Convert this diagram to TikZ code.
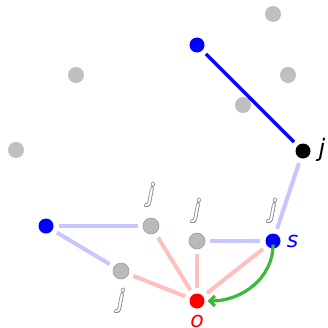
\documentclass[tikz,border=0pt]{standalone}
\usepackage{fontspec}
\setmainfont{DejaVu Sans}
\usetikzlibrary{arrows.meta}
\begin{document}
\begin{tikzpicture}[x=1pt,y=-1pt,
  bgdot/.style={circle,fill=black!25,inner sep=0pt,minimum size=16pt},
  gdot/.style={circle,fill=black!27,draw=black!40,line width=0.6pt,inner sep=0pt,minimum size=16pt},
  bdot/.style={circle,fill=blue,inner sep=0pt,minimum size=15pt},
  kdot/.style={circle,fill=black,inner sep=0pt,minimum size=15pt},
  rdot/.style={circle,fill=red,inner sep=0pt,minimum size=15pt},
  lb/.style={draw=blue!22,line width=4pt,shorten <=5pt,shorten >=5pt},
  pk/.style={draw=red!25,line width=4pt,shorten <=5pt,shorten >=5pt},
  jl/.style={font=\fontsize{24}{24}\selectfont\itshape,inner sep=0pt},
  sl/.style={font=\fontsize{22}{22}\selectfont\itshape,inner sep=0pt},
  outl/.style={jl,text=black!45},
  outw/.style={jl,text=white}]
\useasboundingbox (0,0) rectangle (328,327);
\node[bgdot] (g1) at (273,14) {};
\node[bgdot] (g2) at (76,75) {};
\node[bgdot] (g3) at (288,75) {};
\node[bgdot] (g4) at (243,105) {};
\node[bgdot] (g5) at (16,150) {};
\node[bdot] (bt) at (197,45) {};
\node[kdot] (jk) at (303,151) {};
\node[bdot] (bl) at (46,226) {};
\node[gdot] (a) at (151,226) {};
\node[gdot] (b) at (197,241) {};
\node[gdot] (c) at (121,271) {};
\node[bdot] (s) at (273,241) {};
\node[rdot] (o) at (197,301) {};
\draw[blue,line width=3.5pt,shorten <=5pt,shorten >=5pt] (bt) -- (jk);
\draw[lb] (jk) -- (s);
\draw[lb] (bl) -- (a);
\draw[lb] (bl) -- (c);
\draw[lb] (b) -- (s);
\draw[pk] (a) -- (o);
\draw[pk] (b) -- (o);
\draw[pk] (c) -- (o);
\draw[pk] (s) -- (o);
\draw[draw={rgb,255:red,60;green,185;blue,60},line width=3.2pt,-{Straight Barb[length=5pt,width=10pt]}] ([yshift=4pt]s.south) to[out=-90,in=0] ([xshift=3pt]o.east);
\node[jl] (jlab) at (322,150) {j};
\node[sl,text=blue] (slab) at (292.5,241.5) {s};
\node[sl,text=red] (olab) at (197,321) {o};
\foreach \n/\x/\y in {ja/151/195,jb/197/211,jc/273/211,jd/121/301}{
  \foreach \dx/\dy in {-0.5/-0.5,0.5/-0.5,-0.5/0.5,0.5/0.5,0.7/0,-0.7/0,0/0.7,0/-0.7}
    \node[outl] at (\x+\dx,\y+\dy) {j};
  \node[outw] (\n) at (\x,\y) {j};
}
\end{tikzpicture}
\end{document}
